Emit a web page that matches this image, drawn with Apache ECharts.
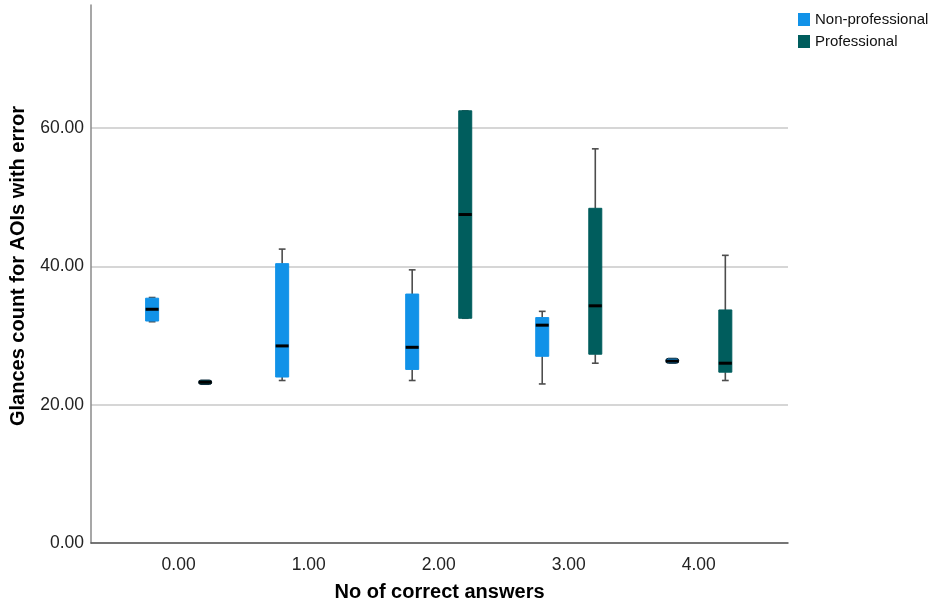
<!DOCTYPE html>
<html>
<head>
<meta charset="utf-8">
<script src="https://cdn.jsdelivr.net/npm/echarts@6/dist/echarts.min.js"></script>
<style>
html,body{margin:0;padding:0;background:#fff;}
#chart{width:935px;height:616px;}
</style>
</head>
<body>
<div id="chart"></div>
<script>
// Categories (No of correct answers)
var categories = ['0.00', '1.00', '2.00', '3.00', '4.00'];
// Box values per category: [min, Q1, median, Q3, max]; null = no data
var nonProfessional = [
  [32.0, 32.1, 33.8, 35.4, 35.5],
  [23.5, 24.0, 28.5, 40.4, 42.5],
  [23.5, 25.1, 28.3, 36.0, 39.5],
  [23.0, 27.0, 31.5, 32.6, 33.5],
  [26.1, 26.2, 26.3, 26.5, 26.5]
];
var professional = [
  [23.1, 23.15, 23.25, 23.35, 23.4],
  null,
  [32.5, 32.5, 47.5, 62.5, 62.5],
  [26.0, 27.3, 34.3, 48.4, 57.0],
  [23.5, 24.7, 26.0, 33.7, 41.6]
];
var seriesNames = ['Non-professional', 'Professional'];
var seriesColors = ['#1192e8', '#005d5d'];

function toItems(arr) {
  var out = [];
  arr.forEach(function (v, i) {
    if (v) out.push([i, v[0], v[1], v[2], v[3], v[4]]);
  });
  return out;
}

function makeRender(side, color) {
  return function (params, api) {
    var band = api.size([1, 0])[0];
    var off = side * 0.204 * band;
    var bw = 0.1 * band;
    var cw = 0.052 * band;
    var x = api.value(0);
    var pMin = api.coord([x, api.value(1)]);
    var pQ1 = api.coord([x, api.value(2)]);
    var pMed = api.coord([x, api.value(3)]);
    var pQ3 = api.coord([x, api.value(4)]);
    var pMax = api.coord([x, api.value(5)]);
    var cx = pMin[0] + off;
    var wStyle = {stroke: '#4d4d4d', lineWidth: 1.6};
    var h = Math.max(pQ1[1] - pQ3[1], 1.5);
    var tiny = (pQ1[1] - pQ3[1]) < 4;
    return {
      type: 'group',
      children: [
        {type: 'line', shape: {x1: cx, y1: pMax[1], x2: cx, y2: pQ3[1]}, style: wStyle},
        {type: 'line', shape: {x1: cx, y1: pQ1[1], x2: cx, y2: pMin[1]}, style: wStyle},
        {type: 'line', shape: {x1: cx - cw / 2, y1: pMax[1], x2: cx + cw / 2, y2: pMax[1]}, style: wStyle},
        {type: 'line', shape: {x1: cx - cw / 2, y1: pMin[1], x2: cx + cw / 2, y2: pMin[1]}, style: wStyle},
        {type: 'rect', shape: {x: cx - bw / 2, y: pQ3[1] - (tiny ? 1.5 : 0), width: bw, height: tiny ? h + 3 : h, r: tiny ? 3 : 0},
          style: {fill: color, stroke: tiny ? '#0b2a3a' : color, lineWidth: 1}},
        {type: 'line', shape: {x1: cx - bw / 2, y1: pMed[1], x2: cx + bw / 2, y2: pMed[1]},
          style: {stroke: '#000', lineWidth: 3}}
      ]
    };
  };
}

var chart = echarts.init(document.getElementById('chart'), null, {renderer: 'canvas'});
var font = "'Liberation Sans', Arial, sans-serif";
chart.setOption({
  backgroundColor: '#fff',
  animation: false,
  textStyle: {fontFamily: font},
  legend: {
    orient: 'vertical',
    left: 793,
    top: 7,
    itemWidth: 12,
    itemHeight: 13,
    itemGap: 7,
    icon: 'rect',
    textStyle: {fontSize: 15, color: '#111', fontFamily: font},
    data: seriesNames
  },
  grid: {left: 88, right: 147, top: 5, bottom: 73},
  xAxis: {
    type: 'value',
    min: -0.674,
    max: 4.686,
    name: 'No of correct answers',
    nameLocation: 'middle',
    nameGap: 39,
    nameTextStyle: {fontSize: 20, fontWeight: 'bold', color: '#000', fontFamily: font},
    axisLine: {show: true, onZero: false, lineStyle: {color: '#555', width: 1.5}},
    axisTick: {show: false},
    splitLine: {show: false},
    axisLabel: {
      customValues: [0, 1, 2, 3, 4],
      formatter: function (v) { return categories[Math.round(v)]; },
      fontSize: 17.5, color: '#222', margin: 13, fontFamily: font
    }
  },
  yAxis: {
    type: 'value',
    min: 0,
    max: 77.8,
    interval: 20,
    name: 'Glances count for AOIs with error',
    nameLocation: 'middle',
    nameGap: 63,
    nameTextStyle: {fontSize: 20, fontWeight: 'bold', color: '#000', fontFamily: font, padding: [0, 0, 0, 16]},
    axisLine: {show: true, onZero: false, lineStyle: {color: '#8a8a8a', width: 1.5}},
    axisTick: {show: false},
    axisLabel: {
      showMaxLabel: false,
      formatter: function (v) { return v.toFixed(2); },
      fontSize: 17.5, color: '#222', margin: 7, fontFamily: font
    },
    splitLine: {
      show: true,
      showMaxLine: false,
      lineStyle: {color: ['#c8c8c8', '#c8c8c8', '#c8c8c8', '#c8c8c8', 'rgba(0,0,0,0)'], width: 1.5}
    }
  },
  series: [
    {
      name: seriesNames[0],
      type: 'custom',
      itemStyle: {color: seriesColors[0]},
      renderItem: makeRender(-1, seriesColors[0]),
      encode: {x: 0, y: [1, 2, 3, 4, 5]},
      data: toItems(nonProfessional)
    },
    {
      name: seriesNames[1],
      type: 'custom',
      itemStyle: {color: seriesColors[1]},
      renderItem: makeRender(1, seriesColors[1]),
      encode: {x: 0, y: [1, 2, 3, 4, 5]},
      data: toItems(professional)
    }
  ]
});
</script>
</body>
</html>
